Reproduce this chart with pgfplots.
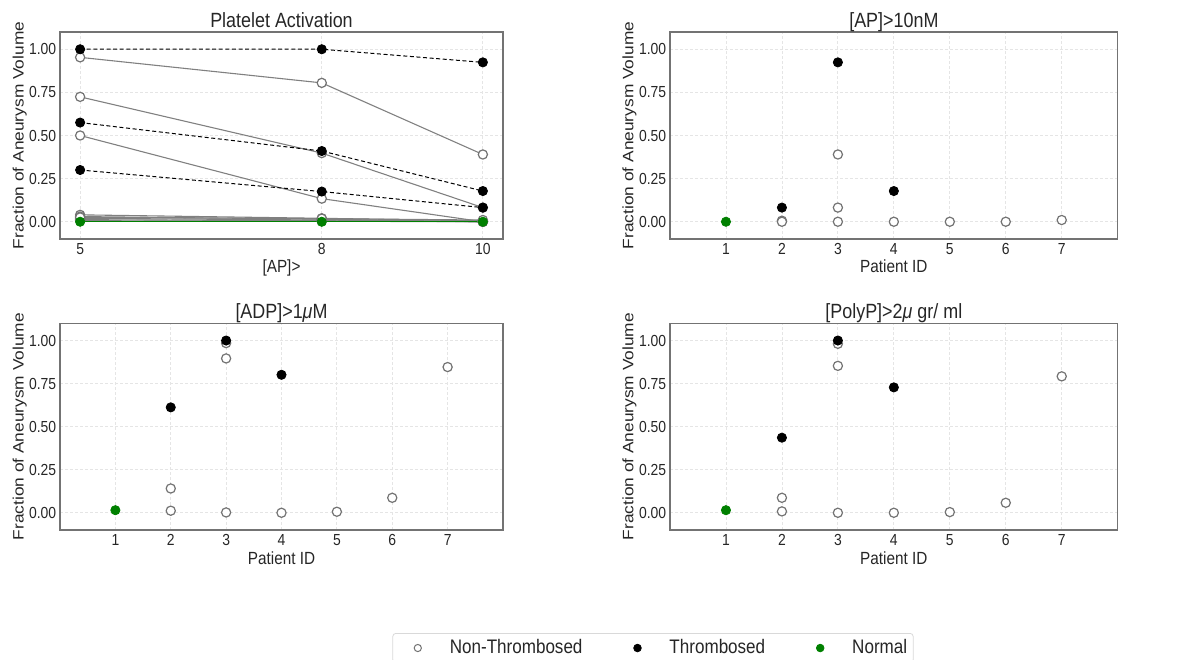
\documentclass[border=0pt]{standalone}
\usepackage{fontspec}
\usepackage{graphicx}
% the reference text is set narrow; FakeStretch mimics its squeezed Arial look
\setmainfont{Liberation Sans}[FakeStretch=0.87]
\newfontfamily\plainsans{Liberation Sans}
\usepackage{pgfplots}
\pgfplotsset{compat=1.18}
\usepackage{pgfplotstable}
\definecolor{mplgreen}{HTML}{008000}
\definecolor{txt}{HTML}{262626}

% platelet activation vs [AP] threshold, one column per patient aneurysm
\pgfplotstableread{
x  t1    t2    t3    n1    n2    n3    n4    n5    n6    n7    n8    n9    g
5  1.000 0.575 0.300 0.953 0.724 0.500 0.040 0.030 0.020 0.012 0.006 0.025 0.000
8  1.000 0.410 0.175 0.805 0.398 0.134 0.020 0.015 0.010 0.006 0.003 0.018 0.000
10 0.924 0.178 0.082 0.390 0.082 0.000 0.005 0.000 0.000 0.000 0.000 0.010 0.000
}\activation

\pgfplotsset{
  panel/.style={
    scale only axis,
    ymin=-0.1, ymax=1.1,
    ytick={0,0.25,0.5,0.75,1},
    /pgf/number format/assume math mode=true,
    y tick label style={/pgf/number format/fixed,/pgf/number format/fixed zerofill,
      /pgf/number format/precision=2},
    tick label style={font=\fontsize{8}{10}\selectfont, text=txt},
    xticklabel style={anchor=base, yshift=-7.8pt},
    yticklabel style={anchor=east, inner xsep=0pt, xshift=-1.7pt},
    major tick length=0pt,
    grid=major,
    major grid style={draw=black!10, line width=0.4pt, dash pattern=on 1.5pt off 1pt},
    axis line style={draw=black!55, line width=0.6pt},
    every axis title shift=0pt,
    title style={font=\fontsize{10.3}{12}\selectfont, text=txt, at={(axis description cs:0.5,1)}, anchor=base, yshift=2.3pt},
    xlabel style={font=\fontsize{8.8}{10}\selectfont, text=txt, at={(axis description cs:0.5,0)}, anchor=base, yshift=-17pt},
    ylabel style={font=\plainsans\fontsize{8.66}{10}\selectfont, text=txt, at={(axis description cs:-0.082,0.5)}, anchor=base},
    ylabel={\scalebox{1}[0.87]{Fraction of Aneurysm Volume}},
  },
  patients/.style={xmin=0, xmax=8, xtick={1,...,7}, xlabel={Patient ID}},
  nonthr/.style={only marks, mark=*, mark size=2.3pt, mark options={draw=black!55, fill=white, line width=0.6pt}},
  thr/.style={only marks, mark=*, mark size=2.3pt, mark options={draw=black, fill=black}},
  norm/.style={only marks, mark=*, mark size=2.3pt, mark options={draw=mplgreen, fill=mplgreen}},
}

\begin{document}
\begin{tikzpicture}
\path[use as bounding box] (0,0) rectangle (597pt,329.5pt);

% top left: activation across thresholds
\begin{axis}[panel, at={(30pt,210pt)}, anchor=south west, width=221.5pt, height=103.5pt,
  xmin=4.75, xmax=10.25, xtick={5,8,10}, xlabel={[AP]>}, title={Platelet Activation}]
\pgfplotsinvokeforeach{n1,n2,n3,n4,n5,n6,n7,n8,n9}{
  \addplot[draw=black!50, line width=0.55pt, no markers] table[x=x,y=#1]{\activation};}
\pgfplotsinvokeforeach{t1,t2,t3}{
  \addplot[draw=black, line width=0.5pt, dash pattern=on 2pt off 1.3pt, no markers] table[x=x,y=#1]{\activation};}
\addplot[draw=mplgreen, line width=0.6pt, no markers] table[x=x,y=g]{\activation};
\pgfplotsinvokeforeach{n1,n2,n3,n4,n5,n6,n7,n8,n9}{
  \addplot[nonthr] table[x=x,y=#1]{\activation};}
\pgfplotsinvokeforeach{t1,t2,t3}{
  \addplot[thr] table[x=x,y=#1]{\activation};}
\addplot[norm] table[x=x,y=g]{\activation};
\end{axis}

% top right: [AP] > 10 nM
\begin{axis}[panel, patients, at={(335pt,210pt)}, anchor=south west, width=223.85pt, height=103.5pt,
  title={[AP]>10nM}]
\addplot[nonthr] coordinates {(2,0.006)(2,0.000)(3,0.390)(3,0.082)(3,0.000)(4,0.000)(5,0.000)(6,0.000)(7,0.010)};
\addplot[thr] coordinates {(2,0.082)(3,0.924)(4,0.178)};
\addplot[norm] coordinates {(1,0.000)};
\end{axis}

% bottom left: [ADP] > 1 uM
\begin{axis}[panel, patients, at={(30pt,64.5pt)}, anchor=south west, width=221.5pt, height=103.35pt,
  title={[ADP]>1{\itshape μ}M}]
\addplot[nonthr] coordinates {(2,0.141)(2,0.012)(3,0.985)(3,0.896)(3,0.002)(4,0.000)(5,0.006)(6,0.087)(7,0.846)};
\addplot[thr] coordinates {(2,0.612)(3,1.000)(4,0.801)};
\addplot[norm] coordinates {(1,0.015)};
\end{axis}

% bottom right: [PolyP] > 2 ug/ml, carries the shared legend
\begin{axis}[panel, patients, at={(335pt,64.5pt)}, anchor=south west, width=223.85pt, height=103.35pt,
  title={[PolyP]>2{\itshape μ} gr/ ml},
  legend columns=3, legend cell align=left,
  legend image code/.code={\path[draw=none,fill=none] (-10.5pt,0pt) -- (15pt,0pt); \draw[#1] plot coordinates {(0pt,0pt)};},
  legend style={at={(axis description cs:-0.038,-0.571)}, anchor=center, draw=black!15,
    rounded corners=1.5pt, inner xsep=2pt, inner ysep=2.5pt, text=txt,
    font=\fontsize{9.8}{11}\selectfont, nodes={inner xsep=1pt, inner ysep=0.5pt},
    /tikz/every even column/.append style={column sep=16pt}}]
\addplot[nonthr, forget plot] coordinates {(2,0.087)(2,0.008)(3,0.981)(3,0.853)(3,0.000)(4,0.000)(5,0.004)(6,0.058)(7,0.792)};
\addplot[thr, forget plot] coordinates {(2,0.436)(3,1.000)(4,0.728)};
\addplot[norm, forget plot] coordinates {(1,0.015)};
\addlegendimage{only marks, mark=*, mark size=1.8pt, mark options={draw=black!55, fill=white, line width=0.5pt}}
\addlegendentry{Non-Thrombosed}
\addlegendimage{only marks, mark=*, mark size=1.9pt, mark options={draw=black, fill=black}}
\addlegendentry{Thrombosed}
\addlegendimage{only marks, mark=*, mark size=1.9pt, mark options={draw=mplgreen, fill=mplgreen}}
\addlegendentry{Normal}
\end{axis}
\end{tikzpicture}
\end{document}
